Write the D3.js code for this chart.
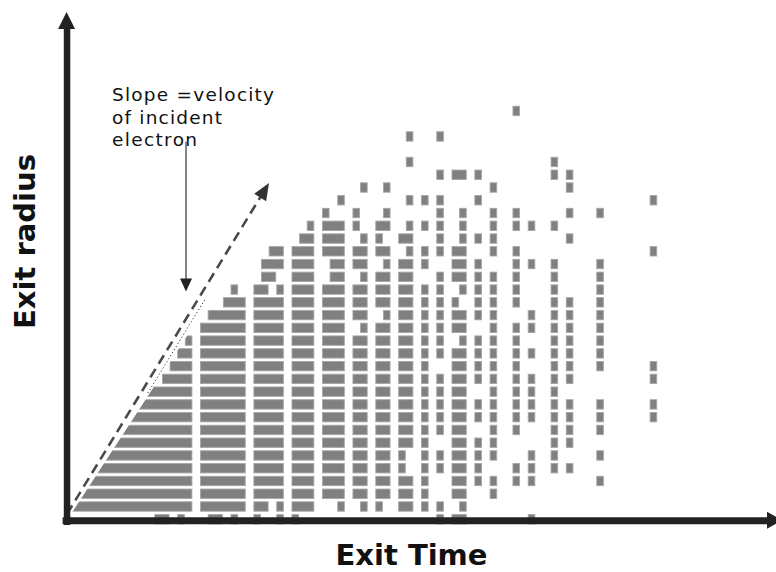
<!DOCTYPE html>
<html><head><meta charset="utf-8">
<script src="https://cdn.jsdelivr.net/npm/d3@7"></script>
<style>html,body{margin:0;padding:0;background:#fff;overflow:hidden}</style>
</head><body>
<svg id="chart" width="776" height="572"></svg>
<script>
// ---- data ----
const timeBinCount = 78;               // exit-time bins (columns)
const radiusRows = d3.range(-1, 32);   // exit-radius rows, bottom (-1) to top (31)
// occupied exit-time bins for each radius row (same order as radiusRows)
const occupiedBins = [
  "11-12 14 18-19 21 24 27 29 48 50-51 60",                                   // -1
  "0-15 17-22 24-25 27 29-31 35 38 40 43-44 46 48 51",                         // 0
  "0-15 17-22 24-27 29-31 33-35 37-38 40-41 43-44 46 50-51 55",                // 1
  "0-15 17-22 24-27 29-31 33-35 37-38 40-41 43-44 46 50-51 53 55 58 60 69",    // 2
  "0-15 17-22 24-27 29-31 33-35 37-38 40-41 43 46 48 50-51 53 58 60 63 65",    // 3
  "0-15 17-22 24-27 29-31 33-35 37-38 40-41 43 46 48 50-51 53 55 60 63 69",    // 4
  "0-15 17-22 24-27 29-31 33-35 37-38 40-41 43-44 46 50-51 53 55 63 65",       // 5
  "0-15 17-22 24-27 29-31 33-35 37-38 40-41 43-44 46 48 50-51 55 58 63 65 69", // 6
  "0-15 17-22 24-27 29-31 33-35 37-38 40-41 43-44 46 48 50-51 53 55 58 60 63 65 69 76", // 7
  "0-15 17-22 24-27 29-31 33-35 37-38 40-41 43-44 46 48 50-51 53 55 58 60 63 65 69 76", // 8
  "0-15 17-22 24-27 29-31 33-35 37-38 40-41 43-44 46 48 50-51 55 58 60 63",    // 9
  "12-15 17-22 24-27 29-31 33-35 37-38 40-41 43-44 46 48 50-51 53 55 58 60 63 65 76", // 10
  "13-15 17-22 24-27 29-31 33-35 37-38 40-41 43-44 46 50-51 53 55 58 63 65 69 76",    // 11
  "14-15 17-22 24-27 29-31 33-35 37-38 40-41 43-44 46 48 50-51 53 55 58 60 63 65 69", // 12
  "15 17-22 24-27 29-31 33-35 37-38 40-41 43-44 46 48 51 53 55 58 63 65 69",          // 13
  "17-22 24-27 29-31 33-35 38 40-41 43-44 46 48 50-51 55 58 60 63 65 69",      // 14
  "18-22 24-27 29-31 33-35 37-38 41 43-44 46 48 50-51 53 55 60 63 65 69",      // 15
  "20-22 24-27 29-31 33-35 37-38 40-41 43-44 46 48 50 53 55 58 63 65 69",      // 16
  "21 24-25 27 29-31 33-35 37-38 40-41 43-44 46 48 51 53 55 58 63 69",         // 17
  "25-26 29-31 34-35 38 40-41 43-44 48 50-51 53 55 58 63 69",                  // 18
  "25-27 29-31 34-35 37-38 41 43-44 46 50-51 53 58 60 63 69",                  // 19
  "26-27 29-31 33-35 37-38 40-41 44 46 48 50-51 55 58 76",                     // 20
  "30-31 33-35 38 40 43-44 48 51 53 55 65",                                    // 21
  "31 33-35 37 40-41 44 46 48 51 55 58 60 63",                                 // 22
  "33 37 41 48 51 55 58 65 69",                                                // 23
  "35 44 46 48 53 76",                                                         // 24
  "38 41 55 65",                                                               // 25
  "48 50-51 53 63 65",                                                         // 26
  "44 63",                                                                     // 27
  "",                                                                          // 28
  "44 48",                                                                     // 29
  "",                                                                          // 30
  "58"                                                                         // 31
];
const xLabel = "Exit Time";
const yLabel = "Exit radius";
const noteLines = ["Slope =velocity", "of incident", "electron"];

// ---- scales ----
const x = d3.scaleLinear().domain([0, timeBinCount]).range([70.5, 70.5 + timeBinCount * 7.62]);
const y = d3.scaleLinear().domain([0, 32]).range([511.7, 511.7 - 32 * 12.76]);
const cellFrac = 0.815;

const svg = d3.select("#chart");

// clip: cells lie to the right of the "velocity" edge
const kEdge = r => 0.72 + (r - 0.41) / 0.917;
svg.append("defs").append("clipPath").attr("id", "edgeClip")
  .append("polygon")
  .attr("points", [[kEdge(-3), -3], [kEdge(35), 35], [82, 35], [82, -3]]
    .map(p => [x(p[0]), y(p[1])].join(",")).join(" "));

function parseRuns(s) {
  return s.trim() === "" ? [] : s.trim().split(/\s+/).map(t => {
    const [a, b] = t.split("-").map(Number);
    return [a, b === undefined ? a : b];
  });
}
const cells = [];
radiusRows.forEach((r, i) => parseRuns(occupiedBins[i]).forEach(([a, b]) => cells.push({r, a, b})));

svg.append("g").attr("clip-path", "url(#edgeClip)")
  .selectAll("rect").data(cells).join("rect")
  .attr("x", d => x(d.a) + 0.5)
  .attr("width", d => x(d.b + 1) - x(d.a) - 1)
  .attr("y", d => y(d.r + cellFrac) + 0.5)
  .attr("height", d => y(d.r) - y(d.r + cellFrac) - 1)
  .attr("fill", "#808080")
  .attr("stroke", "#a6a6a6")
  .attr("stroke-width", 0.9);

// dotted guide along the edge
const kDash = r => -0.46 + 1.022 * (r + 0.18);
svg.append("line")
  .attr("x1", x(kDash(9.3) + 0.92)).attr("y1", y(9.3))
  .attr("x2", x(kDash(16.6) + 0.92)).attr("y2", y(16.6))
  .attr("stroke", "#333").attr("stroke-width", 1).attr("stroke-dasharray", "1.2,2.4");

// dashed slope arrow
const dashStart = [kDash(-0.18), -0.18], dashTip = [kDash(25.76), 25.76];
const p0 = [x(dashStart[0]), y(dashStart[1])], p1 = [x(dashTip[0]), y(dashTip[1])];
const L = Math.hypot(p1[0] - p0[0], p1[1] - p0[1]);
const u = [(p1[0] - p0[0]) / L, (p1[1] - p0[1]) / L];
const headLen = 17, headW = 7;
const base = [p1[0] - u[0] * headLen, p1[1] - u[1] * headLen];
svg.append("line")
  .attr("x1", p0[0]).attr("y1", p0[1]).attr("x2", base[0] + u[0] * 2).attr("y2", base[1] + u[1] * 2)
  .attr("stroke", "#4a4a4a").attr("stroke-width", 2.6).attr("stroke-dasharray", "10,6");
svg.append("path")
  .attr("d", `M${p1[0]},${p1[1]}L${base[0] - u[1] * headW},${base[1] + u[0] * headW}L${base[0] + u[1] * headW},${base[1] - u[0] * headW}Z`)
  .attr("fill", "#333");

// annotation text
const noteK = 5.45, noteBaselines = [32.19, 30.39, 28.66], noteWidths = [162, 110, 85];
svg.append("g").selectAll("text").data(noteLines).join("text")
  .attr("x", x(noteK)).attr("y", (d, i) => y(noteBaselines[i]))
  .attr("textLength", (d, i) => noteWidths[i]).attr("lengthAdjust", "spacing")
  .attr("font-family", "DejaVu Sans, Verdana, sans-serif").attr("font-size", 18.5)
  .attr("fill", "#111").text(d => d);

// vertical pointer arrow
const ptrK = 15.16, ptrTop = 29.0, ptrTip = 17.25;
svg.append("line")
  .attr("x1", x(ptrK)).attr("y1", y(ptrTop)).attr("x2", x(ptrK)).attr("y2", y(ptrTip) - 10)
  .attr("stroke", "#666").attr("stroke-width", 1.6);
svg.append("path")
  .attr("d", `M${x(ptrK)},${y(ptrTip)}L${x(ptrK) - 6},${y(ptrTip) - 13}L${x(ptrK) + 6},${y(ptrTip) - 13}Z`)
  .attr("fill", "#222");

// axes
const axisK = -0.52, axisR = -0.67;
const xAxisScale = d3.scaleLinear().domain([0, 1]).range([x(-1.1), 768]);
const yAxisScale = d3.scaleLinear().domain([0, 1]).range([y(-1.0), 27]);
const gx = svg.append("g").attr("transform", `translate(0,${y(axisR)})`)
  .call(d3.axisBottom(xAxisScale).tickValues([]).tickSizeOuter(0));
gx.select(".domain").attr("stroke", "#222").attr("stroke-width", 7);
const gy = svg.append("g").attr("transform", `translate(${x(axisK)},0)`)
  .call(d3.axisLeft(yAxisScale).tickValues([]).tickSizeOuter(0));
gy.select(".domain").attr("stroke", "#222").attr("stroke-width", 6.5);
// arrowheads
svg.append("path").attr("fill", "#222")
  .attr("d", `M${x(axisK)},12L${x(axisK) - 8.5},29L${x(axisK) + 8.5},29Z`);
svg.append("path").attr("fill", "#222")
  .attr("d", `M782,${y(axisR)}L767,${y(axisR) - 8.5}L767,${y(axisR) + 8.5}Z`);

// axis titles
svg.append("text").attr("x", 411.5).attr("y", 565).attr("text-anchor", "middle")
  .attr("font-family", "DejaVu Sans, Verdana, sans-serif").attr("font-weight", "bold")
  .attr("font-size", 29).attr("fill", "#111").text(xLabel);
svg.append("text").attr("transform", "translate(35,241.5) rotate(-90)").attr("text-anchor", "middle")
  .attr("font-family", "DejaVu Sans, Verdana, sans-serif").attr("font-weight", "bold")
  .attr("font-size", 29).attr("fill", "#111").text(yLabel);
</script>
</body></html>
